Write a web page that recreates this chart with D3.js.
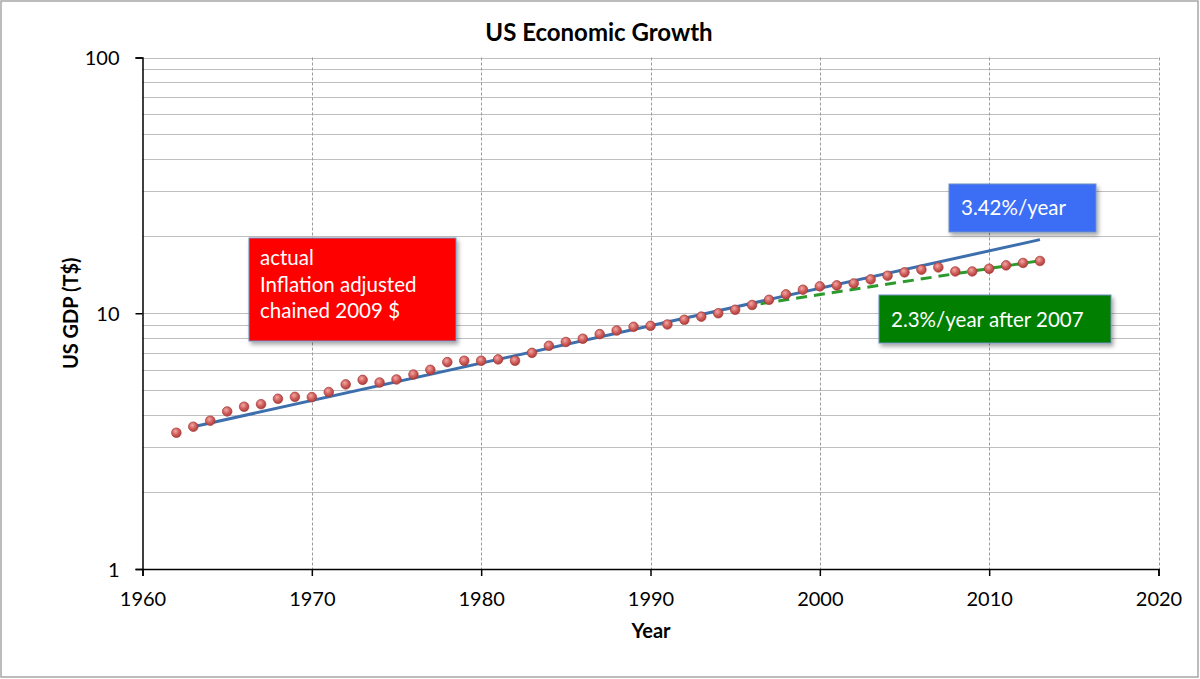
<!DOCTYPE html>
<html><head><meta charset="utf-8">
<script src="https://cdn.jsdelivr.net/npm/d3@7"></script>
<style>
html,body{margin:0;padding:0;background:#fff;}
svg{display:block;font-family:Lato,"Open Sans",sans-serif;}
</style></head>
<body>
<script>
const years = d3.range(1962, 2014);
const gdp = [3.41,3.60,3.80,4.13,4.31,4.41,4.63,4.71,4.70,4.92,5.27,5.49,5.36,5.51,5.76,6.01,6.44,6.52,6.52,6.60,6.52,7.00,7.46,7.72,7.95,8.29,8.56,8.85,8.93,9.04,9.43,9.70,10.0,10.32,10.77,11.29,11.85,12.36,12.74,12.85,13.08,13.56,14.02,14.45,14.80,15.11,14.57,14.57,14.93,15.39,15.73,16.01];
const trendYears = [1963, 2013];
const trendValues = [3.6, 19.4];
const recentYears = [1996.5, 2013];
const recentValues = [10.9, 16.05];
const xTicks = [1960,1970,1980,1990,2000,2010,2020];
const yTicks = [1,10,100];
const yMinor = [2,3,4,5,6,7,8,9,20,30,40,50,60,70,80,90];
const title = "US Economic Growth";
const xTitle = "Year";
const yTitle = "US GDP (T$)";
const notes = [
  {lines:["actual","Inflation adjusted","chained 2009 $"], fill:"#ff0000"},
  {lines:["3.42%/year"], fill:"#3b6ef5"},
  {lines:["2.3%/year after 2007"], fill:"#007f00"}
];

const W=1200,H=679;
const svg=d3.select("body").append("svg").attr("width",W).attr("height",H);
const defs=svg.append("defs");
const rg=defs.append("radialGradient").attr("id","dotg").attr("cx","40%").attr("cy","35%").attr("r","65%");
rg.append("stop").attr("offset","0%").attr("stop-color","#f3a8a6");
rg.append("stop").attr("offset","55%").attr("stop-color","#d0605d");
rg.append("stop").attr("offset","100%").attr("stop-color","#b03c39");
const sh=defs.append("filter").attr("id","shadow").attr("x","-10%").attr("y","-10%").attr("width","130%").attr("height","140%");
sh.append("feDropShadow").attr("dx",2).attr("dy",3).attr("stdDeviation",2).attr("flood-color","#000").attr("flood-opacity",0.35);

svg.append("rect").attr("x",1).attr("y",1).attr("width",W-3).attr("height",H-3)
  .attr("fill","#fff").attr("stroke","#a6a6a6").attr("stroke-width",1.5);

const x=d3.scaleLinear().domain([1960,2020]).range([142.5,1158.5]);
const y=d3.scaleLog().domain([1,100]).range([569,57.5]);

const g=svg.append("g");
g.selectAll(".hg").data(yMinor.concat([10,100])).join("line")
  .attr("x1",x(1960)).attr("x2",x(2020)).attr("y1",d=>Math.round(y(d))+0.5).attr("y2",d=>Math.round(y(d))+0.5)
  .attr("stroke","#bfbfbf").attr("stroke-width",1);
g.selectAll(".vg").data(xTicks.slice(1)).join("line")
  .attr("x1",d=>Math.round(x(d))+0.5).attr("x2",d=>Math.round(x(d))+0.5).attr("y1",y(100)).attr("y2",y(1))
  .attr("stroke","#9a9a9a").attr("stroke-width",1).attr("stroke-dasharray","3,2");

const xAxis=d3.axisBottom(x).tickValues(xTicks).tickFormat(d3.format("d")).tickSize(7).tickPadding(16);
const xa=svg.append("g").attr("transform",`translate(0,${y(1)})`).call(xAxis);
const yAxis=d3.axisLeft(y).tickValues(yTicks).tickFormat(d3.format("d")).tickSize(7).tickPadding(16);
const ya=svg.append("g").attr("transform",`translate(${x(1960)},0)`).call(yAxis);
[xa,ya].forEach(a=>{
  a.select(".domain").attr("stroke","#000").attr("stroke-width",1.5);
  a.selectAll(".tick line").attr("stroke","#000").attr("stroke-width",1.5);
  a.selectAll("text").attr("font-family","Lato, sans-serif").attr("font-size",20).attr("fill","#000");
});
ya.selectAll("text").attr("dy","0.35em");

const line=d3.line().x(d=>x(d[0])).y(d=>y(d[1]));
svg.append("path").datum(d3.zip(trendYears,trendValues)).attr("d",line)
  .attr("fill","none").attr("stroke","#3e6fad").attr("stroke-width",3);
svg.append("path").datum(d3.zip(recentYears,recentValues)).attr("d",line)
  .attr("fill","none").attr("stroke","#2c9a2c").attr("stroke-width",3).attr("stroke-dasharray","11,7");

svg.selectAll(".dot").data(d3.zip(years,gdp)).join("circle")
  .attr("cx",d=>x(d[0])).attr("cy",d=>y(d[1])).attr("r",4.8)
  .attr("fill","url(#dotg)").attr("stroke","#a33a37").attr("stroke-width",0.7);

const bx=[
  {x:249,y:238,w:207,h:103,tx:260,ty:265,lh:26.6},
  {x:949,y:184,w:147,h:48,tx:961,ty:215,lh:26},
  {x:879,y:295,w:232,h:48,tx:891,ty:327,lh:26}
];
notes.forEach((n,i)=>{
  const b=bx[i];
  const gg=svg.append("g");
  gg.append("rect").attr("x",b.x).attr("y",b.y).attr("width",b.w).attr("height",b.h)
    .attr("fill",n.fill).attr("stroke","#6e8fc4").attr("stroke-width",1).attr("filter","url(#shadow)");
  gg.selectAll("text").data(n.lines).join("text")
    .attr("x",b.tx).attr("y",(d,j)=>b.ty+j*b.lh)
    .attr("fill","#fff").attr("font-size",20.5).attr("font-family","Lato, sans-serif").text(d=>d);
});

svg.append("text").attr("x",599).attr("y",41).attr("text-anchor","middle")
  .attr("font-size",24).attr("font-weight","bold").attr("fill","#000").text(title);
svg.append("text").attr("x",651).attr("y",638).attr("text-anchor","middle")
  .attr("font-size",20).attr("font-weight","bold").attr("fill","#000").text(xTitle);
svg.append("text").attr("transform",`translate(78,${y(10)}) rotate(-90)`).attr("text-anchor","middle")
  .attr("font-size",20).attr("font-weight","bold").attr("fill","#000").text(yTitle);
</script>
</body></html>
